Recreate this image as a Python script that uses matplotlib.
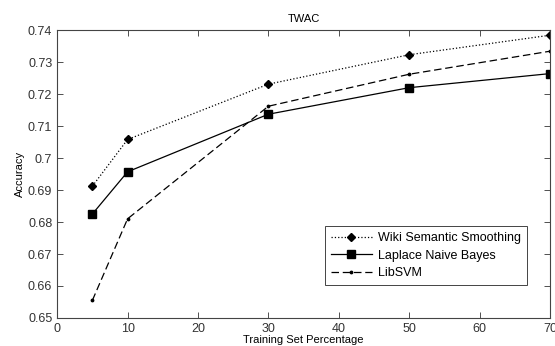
import matplotlib
matplotlib.use("Agg")
import matplotlib.pyplot as plt

plt.rcParams['font.family'] = ['Liberation Sans', 'DejaVu Sans']

train_pct = [5, 10, 30, 50, 70]
wiki = [0.6912, 0.7058, 0.7231, 0.7323, 0.7384]
laplace = [0.6825, 0.6957, 0.7137, 0.7220, 0.7264]
libsvm = [0.6555, 0.6810, 0.7162, 0.7262, 0.7334]

fig = plt.figure(figsize=(5.55, 3.46), dpi=100)
ax = fig.add_axes([0.103, 0.081, 0.888, 0.832])

ax.plot(train_pct, wiki, 'k:', marker='D', markersize=4.5, lw=0.9, label='Wiki Semantic Smoothing')
ax.plot(train_pct, laplace, 'k-', marker='s', markersize=6, lw=0.9, label='Laplace Naive Bayes')
ax.plot(train_pct, libsvm, 'k--', marker='.', markersize=3.5, lw=0.9, dashes=(6, 3), label='LibSVM')

ax.set_xlim(0, 70)
ax.set_ylim(0.65, 0.74)
ax.set_xticks(range(0, 71, 10))
ax.set_yticks([0.65, 0.66, 0.67, 0.68, 0.69, 0.7, 0.71, 0.72, 0.73, 0.74])
ax.set_yticklabels(['0.65', '0.66', '0.67', '0.68', '0.69', '0.7', '0.71', '0.72', '0.73', '0.74'])
ax.tick_params(direction='in', top=True, right=True, labelsize=9, length=4, width=0.6, colors='#333333')
for s in ax.spines.values():
    s.set_linewidth(0.8)
    s.set_color('#444444')

ax.set_title('TWAC', fontsize=8, pad=6)
ax.set_xlabel('Training Set Percentage', fontsize=8, labelpad=0)
ax.set_ylabel('Accuracy', fontsize=8, labelpad=2)

leg = ax.legend(loc='lower right', bbox_to_anchor=(0.953, 0.115), fontsize=9, fancybox=False,
                framealpha=1, edgecolor='#444444', handlelength=3.3, handletextpad=0.5,
                borderpad=0.45, labelspacing=0.45, borderaxespad=0)
leg.get_frame().set_linewidth(0.7)

fig.savefig('out.png', dpi=100)
